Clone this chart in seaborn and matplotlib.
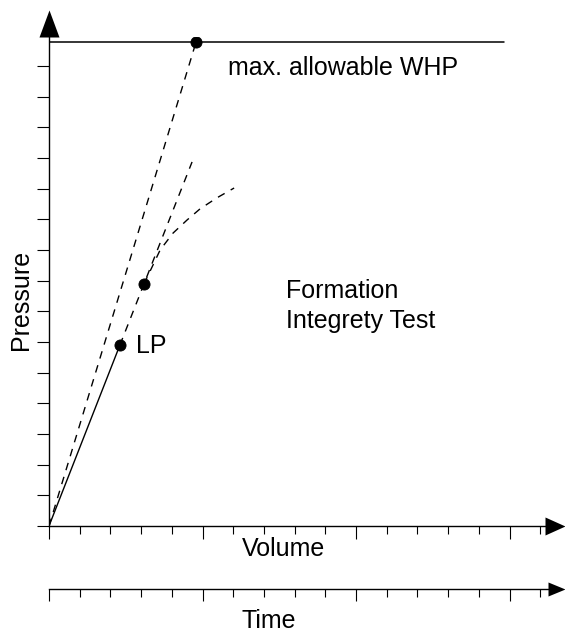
import matplotlib
matplotlib.use("Agg")
import matplotlib.pyplot as plt
from matplotlib.ticker import MultipleLocator
import seaborn as sns

# data in tick units (1 unit = one tick step)
load_x = [0.0, 2.31]            # solid line up to LP
load_y = [0.0, 5.90]
whp_line_x = [0.0, 4.79]        # dashed line to max WHP
whp_line_y = [0.0, 15.78]
lin_x = [2.31, 4.66]            # straight continuation after LP
lin_y = [5.90, 11.87]
curve_x = [3.09, 3.36, 3.62, 4.04, 4.50, 4.92, 5.47, 6.03]
curve_y = [7.89, 8.45, 9.00, 9.55, 9.98, 10.34, 10.70, 11.02]
max_x = [0.0, 14.82]
max_y = [15.78, 15.78]
dot_x = [4.79, 2.31, 3.09]
dot_y = [15.78, 5.90, 7.89]

W, H = 565, 633
sns.set_style("ticks")
plt.rcParams["font.family"] = ["Liberation Sans", "DejaVu Sans"]
plt.rcParams["text.color"] = "black"
plt.rcParams["axes.labelcolor"] = "black"

fig = plt.figure(figsize=(W / 100, H / 100), dpi=100)
ax = fig.add_axes([49 / W, (H - 526) / H, 496 / W, 489 / H])
ax.set_xlim(0, 496 / 30.7)
ax.set_ylim(0, 489 / 30.67)

dash = (5.5, 5)
sns.lineplot(x=load_x, y=load_y, ax=ax, color="black", lw=1.0, sort=False)
sns.lineplot(x=whp_line_x, y=whp_line_y, ax=ax, color="black", lw=1.0, sort=False)
ax.lines[-1].set_dashes(dash)
sns.lineplot(x=lin_x, y=lin_y, ax=ax, color="black", lw=1.0, sort=False)
ax.lines[-1].set_dashes(dash)
sns.lineplot(x=curve_x, y=curve_y, ax=ax, color="black", lw=1.0, sort=False)
ax.lines[-1].set_dashes(dash)
sns.lineplot(x=max_x, y=max_y, ax=ax, color="black", lw=1.1, sort=False)
sns.scatterplot(x=dot_x, y=dot_y, ax=ax, color="black", s=64, edgecolor="black", zorder=5)

# texts
ax.text(5.83, 14.70, "max. allowable WHP", fontsize=18, va="baseline")
ax.text(7.72, 7.43, "Formation", fontsize=18, va="baseline")
ax.text(7.72, 6.46, "Integrety Test", fontsize=18, va="baseline")
ax.text(2.83, 5.64, "LP", fontsize=18, va="baseline")

# axes styling
for s in ["top", "right"]:
    ax.spines[s].set_visible(False)
for s in ["left", "bottom"]:
    ax.spines[s].set_linewidth(1.0)
    ax.spines[s].set_color("black")
ax.xaxis.set_major_locator(MultipleLocator(5))
ax.xaxis.set_minor_locator(MultipleLocator(1))
ax.set_yticks(range(16))
ax.tick_params(axis="x", which="major", length=9.5, width=0.8, direction="out",
               labelbottom=False, color="black")
ax.tick_params(axis="x", which="minor", length=5.5, width=0.8, direction="out", color="black")
ax.tick_params(axis="y", which="major", length=8.6, width=0.8, direction="out",
               labelleft=False, color="black")

ax.plot([0], [1], marker=[(-10, 0), (0, 27), (10, 0), (-10, 0)], ms=38.9, mew=0,
        color="black", transform=ax.transAxes, clip_on=False)
ax.plot([1], [0], marker=[(0, -9), (20, 0), (0, 9), (0, -9)], ms=28.8, mew=0,
        color="black", transform=ax.transAxes, clip_on=False)

ax.set_xlabel("Volume", fontsize=18, ha="left")
ax.xaxis.set_label_coords(242 / W, (H - 536.5) / H, transform=fig.transFigure)
ax.set_ylabel("Pressure", fontsize=18)
ax.yaxis.set_label_coords(33 / W, (H - 300) / H, transform=fig.transFigure)

# time axis
tax = fig.add_axes([49 / W, (H - 589) / H, 499 / W, 1 / H])
tax.set_facecolor("none")
tax.set_xlim(0, 499 / 30.7)
tax.set_ylim(0, 1)
for s in ["top", "right", "left"]:
    tax.spines[s].set_visible(False)
tax.spines["bottom"].set_linewidth(1.0)
tax.spines["bottom"].set_color("black")
tax.set_yticks([])
tax.xaxis.set_major_locator(MultipleLocator(5))
tax.xaxis.set_minor_locator(MultipleLocator(1))
tax.tick_params(axis="x", which="major", length=8.5, width=0.8, direction="out",
                labelbottom=False, color="black")
tax.tick_params(axis="x", which="minor", length=5.5, width=0.8, direction="out", color="black")
tax.plot([1], [0], marker=[(0, -7), (17, 0), (0, 7), (0, -7)], ms=24.5, mew=0,
         color="black", transform=tax.transAxes, clip_on=False)
tax.set_xlabel("Time", fontsize=18, ha="left")
tax.xaxis.set_label_coords(242 / W, (H - 609) / H, transform=fig.transFigure)

fig.savefig("out.png", dpi=100)
